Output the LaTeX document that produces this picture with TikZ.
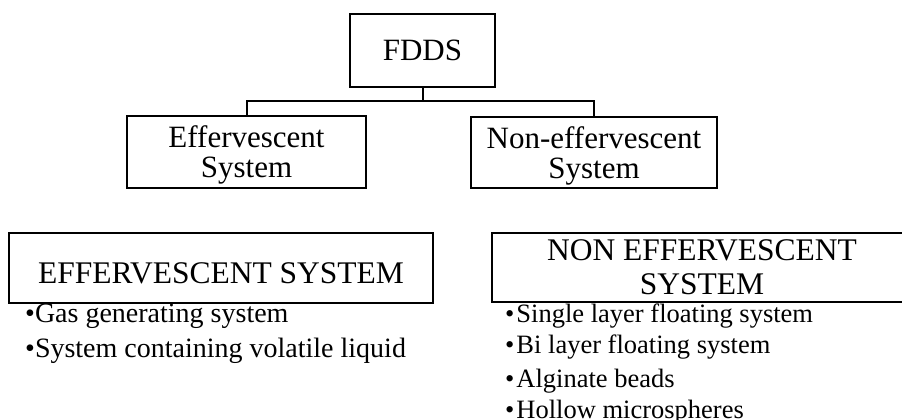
\documentclass[tikz,border=0pt]{standalone}
\usepackage{fontspec}
\setmainfont{Liberation Serif}

\begin{document}
\begin{tikzpicture}[x=1pt, y=-1pt,
    box/.style={draw, line width=2pt, inner sep=0pt, align=center, text depth=0pt, font=\fontsize{31}{30}\selectfont},
    link/.style={line width=2pt},
    item/.style={anchor=base west, inner sep=0pt, font=\fontsize{28}{30}\selectfont},
    subitem/.style={anchor=base west, inner sep=0pt, font=\fontsize{26.5}{30}\selectfont}
]
\useasboundingbox (0,0) rectangle (902,420);
\clip (0,0) rectangle (902,420);
% tree
\node[box, minimum width=145, minimum height=73] (fdds) at (422.5, 50.5) {FDDS};
\node[box, minimum width=239, minimum height=72] (eff) at (246.5, 152) {Effervescent\\System};
\node[box, minimum width=246, minimum height=71] (noneff) at (594, 152.5) {Non-effervescent\\System};
\coordinate (split) at (422.5, 100.5);
\draw[link] (fdds.south) -- (split) -| (eff.north);
\draw[link] (split) -| (noneff.north);
% lists
\node[box, minimum width=424, minimum height=70, text height=30pt, font=\fontsize{31.5}{30}\selectfont] (effhead) at (221, 268) {EFFERVESCENT SYSTEM};
\node[box, minimum width=420, minimum height=69, font=\fontsize{31.5}{34}\selectfont] (noneffhead) at (702, 267.5) {NON EFFERVESCENT\\SYSTEM};
\node[item] (gas) at (25, 322) {\textbullet Gas generating system};
\node[item] (vol) at (25, 357) {\textbullet System containing volatile liquid};
\node[subitem] (single) at (505, 322) {\textbullet\kern2pt Single layer floating system};
\node[subitem] (bilayer) at (505, 353.5) {\textbullet\kern2pt Bi layer floating system};
\node[subitem] (beads) at (505, 387) {\textbullet\kern2pt Alginate beads};
\node[subitem] (hollow) at (505, 418) {\textbullet\kern2pt Hollow microspheres};
\end{tikzpicture}
\end{document}
